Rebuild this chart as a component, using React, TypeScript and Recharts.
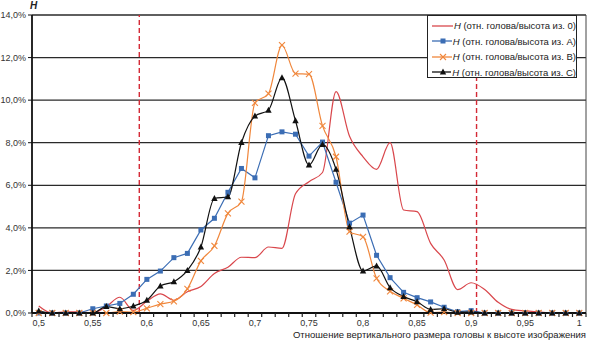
import React from "react";
import { LineChart, Line, XAxis, YAxis, CartesianGrid, ReferenceLine } from "recharts";

// категории по оси X (шаг 0,0125)
const categories = [
  0.5, 0.5125, 0.525, 0.5375, 0.55, 0.5625, 0.575, 0.5875, 0.6, 0.6125, 0.625,
  0.6375, 0.65, 0.6625, 0.675, 0.6875, 0.7, 0.7125, 0.725, 0.7375, 0.75, 0.7625,
  0.775, 0.7875, 0.8, 0.8125, 0.825, 0.8375, 0.85, 0.8625, 0.875, 0.8875, 0.9,
  0.9125, 0.925, 0.9375, 0.95, 0.9625, 0.975, 0.9875, 1.0,
];

const xTickValues = [0.5, 0.55, 0.6, 0.65, 0.7, 0.75, 0.8, 0.85, 0.9, 0.95, 1.0];
const xTickLabels = ["0,5", "0,55", "0,6", "0,65", "0,7", "0,75", "0,8", "0,85", "0,9", "0,95", "1"];
const yTicks = [0, 2, 4, 6, 8, 10, 12, 14];

// значения H, %
const series0 = [
  0.33, 0, 0.05, 0.05, 0, 0.3, 0.74, 0.12, 0.55, 0.9, 0.6, 1.0, 1.25, 1.86, 2.15,
  2.62, 2.6, 3.1, 3.04, 5.6, 6.17, 6.6, 10.4, 8.3, 7.34, 6.75, 8.0, 4.84, 4.76,
  3.27, 2.49, 1.1, 1.42, 1.1, 0.5, 0.17, 0.1, 0.05, 0, 0, 0,
];
const seriesA = [
  0, 0, 0, 0, 0.2, 0.33, 0.45, 0.88, 1.58, 1.97, 2.6, 2.8, 3.9, 4.45, 5.67, 6.79,
  6.35, 8.33, 8.51, 8.4, 7.37, 8.03, 6.14, 4.22, 4.6, 2.71, 1.66, 0.97, 0.72, 0.52,
  0.27, 0.06, 0.11, 0, 0, 0, 0, 0, 0, 0, 0,
];
const seriesB = [
  0, 0, 0, 0, 0, 0, 0.06, 0.04, 0.22, 0.42, 0.55, 1.13, 2.45, 3.15, 4.68, 5.23,
  9.87, 10.31, 12.58, 11.25, 11.22, 8.79, 7.34, 3.82, 3.58, 1.63, 1.02, 0.69, 0.38,
  0.02, 0.04, 0, 0, 0, 0, 0, 0, 0, 0, 0, 0,
];
const seriesC = [
  0.09, 0, 0, 0, 0, 0.3, 0.2, 0.33, 0.6, 1.27, 1.47, 2.0, 3.1, 5.38, 5.46, 8.01,
  9.25, 9.53, 11.05, 9.03, 6.95, 7.92, 6.75, 4.05, 1.97, 2.21, 1.19, 0.77, 0.53,
  0.17, 0.2, 0.04, 0.05, 0, 0, 0, 0, 0, 0, 0, 0,
];

const seriesNames = [
  "(отн. голова/высота из. 0)",
  "(отн. голова/высота из. A)",
  "(отн. голова/высота из. B)",
  "(отн. голова/высота из. C)",
];

const thresholds = [0.593, 0.905];

const RED = "#d9474c";
const BLUE = "#3b6db4";
const ORANGE = "#f0873c";
const BLACK = "#111111";
const DASH_RED = "#d42a36";

const W = 591;
const H = 342;
const Y_AXIS_W = 32;
const X_AXIS_H = 29;
const MARGIN = { top: 15, right: 5, left: 0, bottom: 0 };
const STEP = categories[1] - categories[0];
const HALF = (W - Y_AXIS_W - MARGIN.right) / categories.length / 2;
const FONT = '"Liberation Sans", Arial, sans-serif';

const data = categories.map((x, i) => ({
  x,
  s0: series0[i],
  sA: seriesA[i],
  sB: seriesB[i],
  sC: seriesC[i],
}));

const SquareDot = (props: any) => {
  const { cx, cy, index } = props;
  return <rect key={`a${index}`} x={cx - 2.5} y={cy - 2.5} width={5} height={5} fill={BLUE} />;
};

const CrossDot = (props: any) => {
  const { cx, cy, index } = props;
  return (
    <g key={`b${index}`} stroke={ORANGE} strokeWidth={1.1}>
      <line x1={cx - 3} y1={cy - 3} x2={cx + 3} y2={cy + 3} />
      <line x1={cx - 3} y1={cy + 3} x2={cx + 3} y2={cy - 3} />
    </g>
  );
};

const TriangleDot = (props: any) => {
  const { cx, cy, index } = props;
  return (
    <path
      key={`c${index}`}
      d={`M${cx},${cy - 3.5} L${cx + 3.2},${cy + 2.5} L${cx - 3.2},${cy + 2.5} Z`}
      fill={BLACK}
    />
  );
};

const XTick = (props: any) => {
  const { x, y, payload, index } = props;
  const li = xTickValues.findIndex((v) => Math.abs(v - payload.value) < 1e-6);
  const isLast = index === categories.length - 1;
  return (
    <g>
      <line x1={x - HALF} x2={x - HALF} y1={y} y2={y + 4} stroke="#222" strokeWidth={1.2} />
      {isLast && <line x1={x + HALF} x2={x + HALF} y1={y} y2={y + 4} stroke="#222" strokeWidth={1.2} />}
      {li >= 0 && (
        <text x={x} y={y + 13} textAnchor="middle" fontSize={9} fill="#333" fontFamily={FONT}>
          {xTickLabels[li]}
        </text>
      )}
    </g>
  );
};

const LegendIcon = ({ kind }: { kind: number }) => {
  const colors = [RED, BLUE, ORANGE, BLACK];
  const c = colors[kind];
  return (
    <svg width={22} height={10} style={{ display: "block" }}>
      <line x1={0} x2={22} y1={5} y2={5} stroke={c} strokeWidth={1.3} />
      {kind === 1 && <rect x={8.5} y={2.5} width={5} height={5} fill={c} />}
      {kind === 2 && (
        <g stroke={c} strokeWidth={1.1}>
          <line x1={8} y1={2} x2={14} y2={8} />
          <line x1={8} y1={8} x2={14} y2={2} />
        </g>
      )}
      {kind === 3 && <path d="M11,1.5 L14.2,7.5 L7.8,7.5 Z" fill={c} />}
    </svg>
  );
};

export default function App() {
  document.body.style.margin = "0";
  return (
    <div style={{ position: "relative", width: W, height: H, fontFamily: FONT, background: "#fff" }}>
      <LineChart width={W} height={H} data={data} margin={MARGIN}>
        <CartesianGrid vertical={false} stroke="#2a2a2a" strokeWidth={1.3} />
        <XAxis
          dataKey="x"
          type="number"
          domain={[categories[0] - STEP / 2, categories[categories.length - 1] + STEP / 2]}
          ticks={categories}
          interval={0}
          height={X_AXIS_H}
          tickSize={0}
          tickMargin={0}
          tickLine={false}
          tick={<XTick />}
          axisLine={{ stroke: "#111", strokeWidth: 1.8 }}
        />
        <YAxis
          domain={[0, 14]}
          ticks={yTicks}
          width={Y_AXIS_W}
          tickSize={4}
          tickMargin={2}
          tickFormatter={(v: number) => `${v.toFixed(1).replace(".", ",")}%`}
          tick={{ fontSize: 9, fill: "#333", fontFamily: FONT }}
          tickLine={{ stroke: "#111" }}
          axisLine={{ stroke: "#111", strokeWidth: 1.8 }}
        />
        <ReferenceLine
          x={categories[categories.length - 1] + STEP / 2}
          stroke="#444"
          strokeWidth={1}
        />
        {thresholds.map((t) => (
          <ReferenceLine key={t} x={t} stroke={DASH_RED} strokeWidth={1.4} strokeDasharray="5 3" />
        ))}
        <Line dataKey="s0" type="monotone" stroke={RED} strokeWidth={1.2} dot={false} isAnimationActive={false} />
        <Line dataKey="sA" type="linear" stroke={BLUE} strokeWidth={1.2} dot={<SquareDot />} isAnimationActive={false} />
        <Line dataKey="sB" type="monotone" stroke={ORANGE} strokeWidth={1.2} dot={<CrossDot />} isAnimationActive={false} />
        <Line dataKey="sC" type="monotone" stroke={BLACK} strokeWidth={1.2} dot={<TriangleDot />} isAnimationActive={false} />
      </LineChart>

      <div
        style={{
          position: "absolute",
          left: 30,
          top: 0,
          fontSize: 10,
          fontWeight: "bold",
          fontStyle: "italic",
          color: "#222",
        }}
      >
        H
      </div>

      <div
        style={{
          position: "absolute",
          right: 5,
          top: 329,
          fontSize: 9.5,
          lineHeight: "11px",
          color: "#222",
          whiteSpace: "nowrap",
        }}
      >
        Отношение вертикального размера головы к высоте изображения
      </div>

      <div
        style={{
          position: "absolute",
          left: 427,
          top: 15,
          width: 150,
          height: 63,
          border: "1px solid #222",
          background: "#fff",
          boxSizing: "border-box",
          paddingTop: 2,
        }}
      >
        {seriesNames.map((n, k) => (
          <div
            key={n}
            style={{ display: "flex", alignItems: "center", height: 15.5, paddingLeft: 4, fontSize: 9.5, color: "#222", whiteSpace: "nowrap" }}
          >
            <LegendIcon kind={k} />
            <span style={{ marginLeft: 1 }}>
              <i>H</i> {n}
            </span>
          </div>
        ))}
      </div>
    </div>
  );
}
